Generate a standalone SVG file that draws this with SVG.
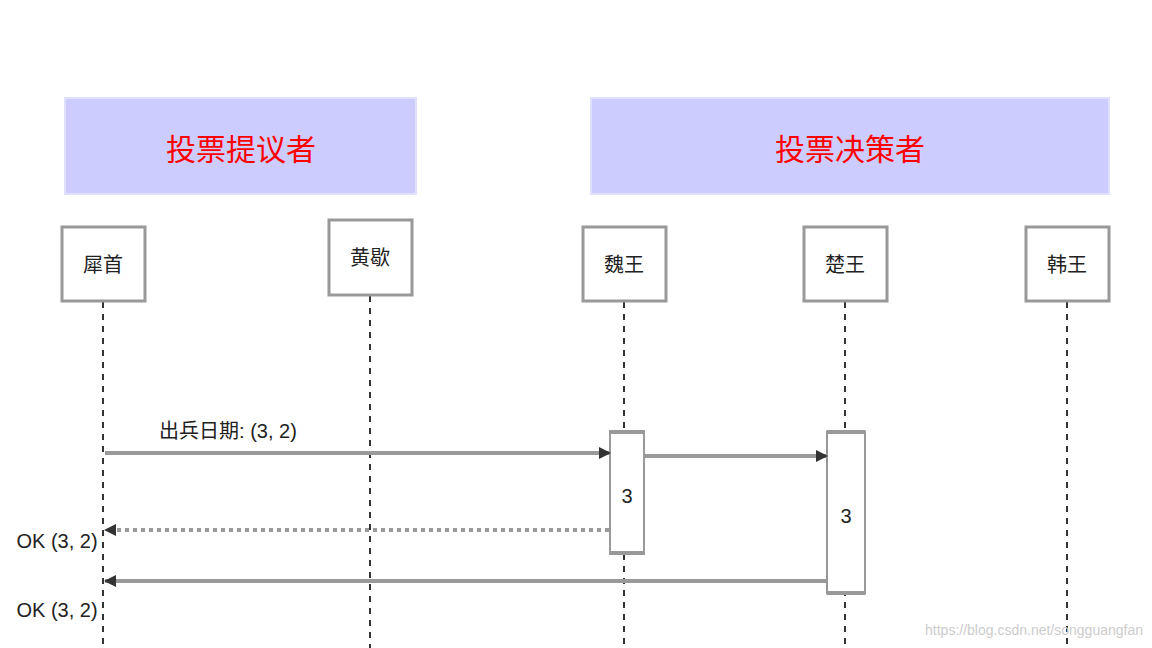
<svg xmlns="http://www.w3.org/2000/svg" width="1152" height="648" viewBox="0 0 1152 648">
<style>
.grp{fill:#ccccff;stroke:#e0e0ff;stroke-width:2}
.gt{font-family:"Liberation Sans","Noto Sans CJK SC",sans-serif;font-size:30px;fill:#ff0000;text-anchor:middle}
.box{fill:#fff;stroke:#999;stroke-width:3}
.t{font-family:"Liberation Sans","Noto Sans CJK SC",sans-serif;font-size:20px;fill:#222;text-anchor:middle}
.life{stroke:#333;stroke-width:2;stroke-dasharray:6,6}
.msg{stroke:#999;stroke-width:4;fill:none}
.act{fill:#fff;stroke:#999;stroke-width:2}
</style>
<defs><marker id="ah" markerWidth="12" markerHeight="12" refX="11" refY="6" orient="auto" markerUnits="userSpaceOnUse"><path d="M0,0 L12,6 L0,12 z" fill="#333"/></marker></defs>
<rect width="1152" height="648" fill="#fff"/>
<g id="g1"><rect class="grp" x="65" y="98" width="351" height="96"/><text class="gt" x="241" y="160">投票提议者</text></g>
<g id="g2"><rect class="grp" x="591" y="98" width="518" height="96"/><text class="gt" x="850" y="160">投票决策者</text></g>
<g id="lifelines">
<line class="life" x1="103" y1="302" x2="103" y2="648"/>
<line class="life" x1="370" y1="296" x2="370" y2="648"/>
<line class="life" x1="624" y1="302" x2="624" y2="648"/>
<line class="life" x1="845" y1="302" x2="845" y2="648"/>
<line class="life" x1="1067" y1="302" x2="1067" y2="648"/>
</g>
<g id="a1"><rect class="box" x="62" y="227" width="83" height="74"/><text class="t" x="103" y="272">犀首</text></g>
<g id="a2"><rect class="box" x="329" y="220" width="83" height="75"/><text class="t" x="370" y="265">黄歇</text></g>
<g id="a3"><rect class="box" x="583" y="227" width="83" height="74"/><text class="t" x="624" y="272">魏王</text></g>
<g id="a4"><rect class="box" x="804" y="227" width="83" height="74"/><text class="t" x="845" y="272">楚王</text></g>
<g id="a5"><rect class="box" x="1026" y="227" width="83" height="74"/><text class="t" x="1067" y="272">韩王</text></g>
<g id="act1"><rect class="act" x="610" y="431" width="34" height="123"/><rect x="610" y="430" width="34" height="4" fill="#999"/><rect x="610" y="551" width="34" height="4" fill="#999"/><text class="t" x="627" y="503">3</text></g>
<g id="act2"><rect x="827" y="431" width="38" height="163" fill="#fff" stroke="#333" stroke-width="1"/><rect x="827" y="430" width="38" height="4" fill="#999"/><rect x="827" y="591" width="38" height="4" fill="#999"/><text class="t" x="846" y="523">3</text></g>
<g id="connectors">
<line class="msg" x1="105" y1="453" x2="610" y2="453" marker-end="url(#ah)"/>
<line class="msg" x1="644" y1="456" x2="827" y2="456" marker-end="url(#ah)"/>
<line class="msg" x1="609" y1="530" x2="105" y2="530" stroke-dasharray="4,4" marker-end="url(#ah)"/>
<line class="msg" x1="827" y1="581" x2="105" y2="581" marker-end="url(#ah)"/>
</g>
<text class="t" x="228" y="438">出兵日期: (3, 2)</text>
<text class="t" x="57" y="548">OK (3, 2)</text>
<text class="t" x="57" y="617">OK (3, 2)</text>
<text x="1143" y="635" font-family="Liberation Sans,sans-serif" font-size="14" fill="#ccc" text-anchor="end">https://blog.csdn.net/songguangfan</text>
</svg>
